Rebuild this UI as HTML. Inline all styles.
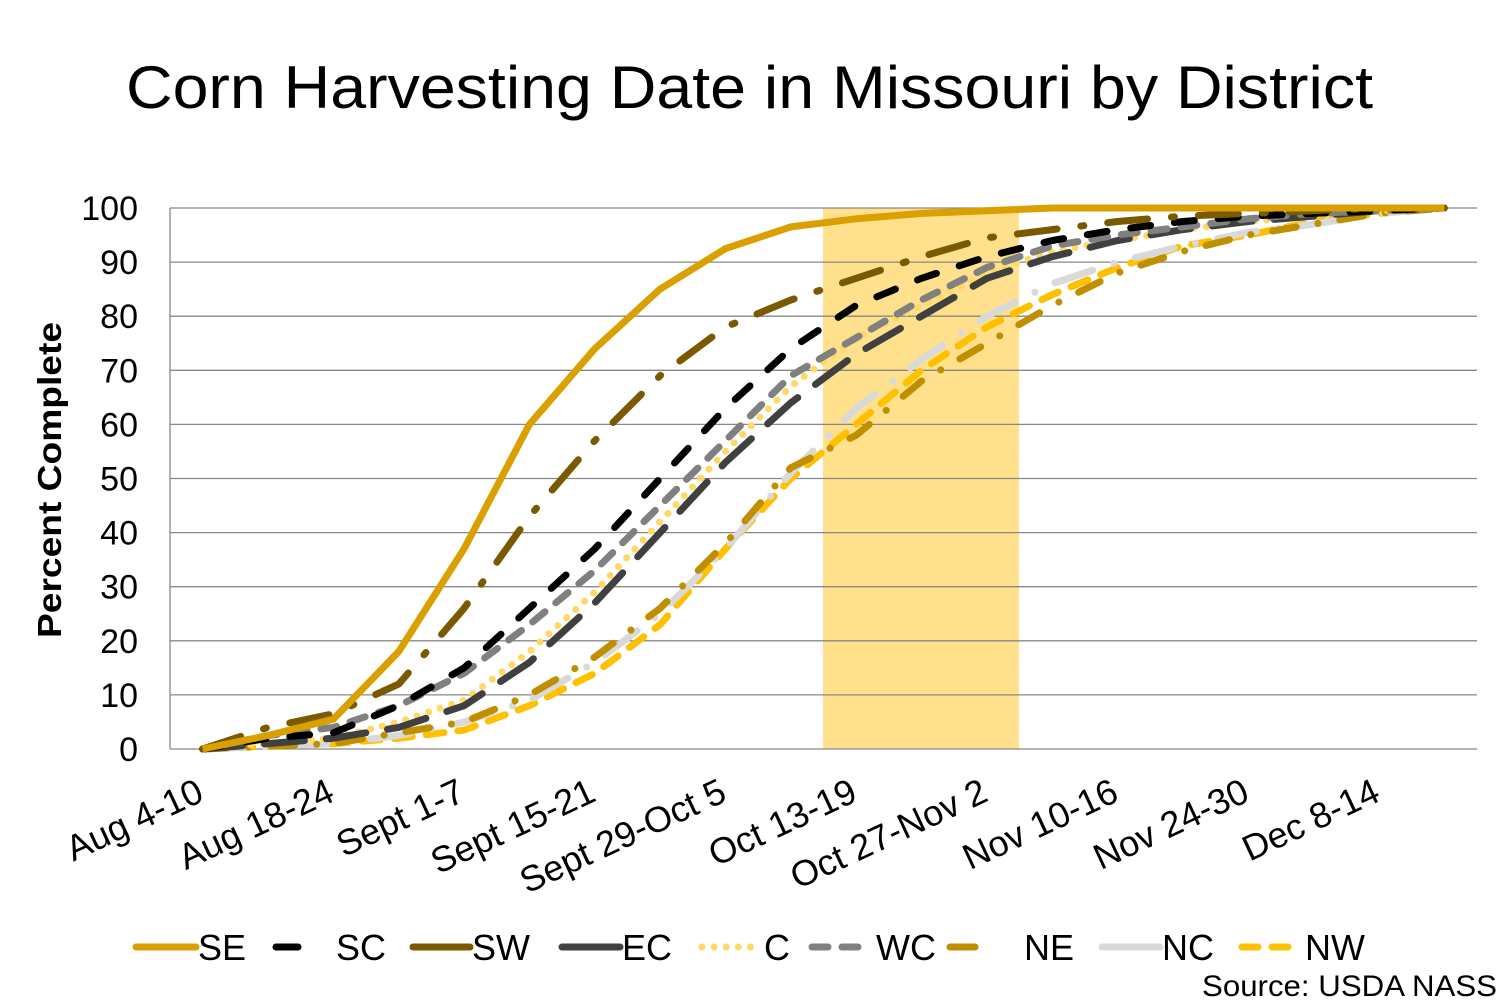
<!DOCTYPE html>
<html><head><meta charset="utf-8">
<style>
html,body{margin:0;padding:0;background:#fff;}
svg{display:block;font-family:"Liberation Sans",Arial,sans-serif;}
</style></head>
<body>
<svg id="c" width="1500" height="1000" viewBox="0 0 1500 1000" xmlns="http://www.w3.org/2000/svg">
<rect width="1500" height="1000" fill="#fff"/>
<text x="126" y="108" font-size="60" textLength="1247" lengthAdjust="spacingAndGlyphs" fill="#000">Corn Harvesting Date in Missouri by District</text>
<rect x="823" y="208" width="196" height="541" fill="#FFE08C"/>
<g id="grid" stroke="#888" stroke-width="1.3"></g>
<g id="ylab" font-size="34" text-anchor="end" fill="#000"></g>
<text transform="translate(61,480) rotate(-90)" font-size="33" font-weight="bold" text-anchor="middle" textLength="316" lengthAdjust="spacingAndGlyphs">Percent Complete</text>
<g id="xlab" font-size="36" text-anchor="end" fill="#000"></g>
<g id="series" fill="none" stroke-width="7"></g>
<g id="legend" font-size="36" fill="#000"></g>
<text x="1497" y="996" font-size="30" text-anchor="end" textLength="295" lengthAdjust="spacingAndGlyphs">Source: USDA NASS</text>
</svg>
<script>
var NS="http://www.w3.org/2000/svg";
function el(t,a,p,txt){var e=document.createElementNS(NS,t);for(var k in a)e.setAttribute(k,a[k]);if(txt)e.textContent=txt;p.appendChild(e);return e;}
var X0=170,X1=1477,Y0=749,Y100=208;
function yy(v){return Y0-(Y0-Y100)*v/100;}
function xx(i){return X0+65.35*(i+0.5);}
var g=document.getElementById('grid'),yl=document.getElementById('ylab');
for(var v=0;v<=100;v+=10){el('line',{x1:X0,x2:X1,y1:yy(v),y2:yy(v)},g);el('text',{x:138,y:yy(v)+12},yl,String(v));}
el('line',{x1:X0,x2:X0,y1:Y100,y2:Y0},g);
var labs=["Aug 4-10","Aug 18-24","Sept 1-7","Sept 15-21","Sept 29-Oct 5","Oct 13-19","Oct 27-Nov 2","Nov 10-16","Nov 24-30","Dec 8-14"];
var xl=document.getElementById('xlab');
labs.forEach(function(l,k){var x=xx(2*k)+3,y=800;el('text',{x:x,y:y,transform:'rotate(-25 '+x+' '+y+')'},xl,l);});
var S=[
["SE","#D9A000","",[0,2.5,5.5,18,37,60,74,85,92.5,96.5,98,99,99.5,100,100,100,100,100,100,100],"butt"],
["SW","#7A5A00","40 24 3 24",[0,4,6.5,12,26,43,57,69,78,83,87,91,94.5,96,97.5,98.5,99,99.5,100,100],"round"],
["SC","#000","20 24",[0,2,3,8,15,26,37,50,63,74,82,87,91,94,96,97.5,98.5,99,99.5,100],"round"],
["WC","#808080","16 14",[0,2.5,4,8,14,23,33,45,57,69,76,83,89,93,95,96.5,98,99,99.5,100],"round"],
["EC","#404040","40 22",[0,1,2,4,8,16,27,40,53,64,73,80,87,91,94,96,97.5,98.5,99.5,100],"round"],
["C","#FFD966","0.1 12",[0,1,2,5,9,18,29,42,55,67,76,82,88,92,94,96,97.5,98.5,99.5,100],"round"],
["NE","#BF8F00","24 22 0.1 22",[0,0.5,1,3,5,10,17,26,38,52,58,68,75,82,88,92,95,97,99,100],"round"],
["NC","#D9D9D9","40 22 0.1 22",[0,0.5,1,2.5,5,9,16,25,37,51,63,72,80,86,90,93,95.5,97,99,100],"round"],
["NW","#FFC000","18 14",[0,0.5,1,2,3.5,8,14,23,37,50,60,70,78,84,89,93,95,97.5,99,100],"round"]];
var sg=document.getElementById('series');
S.slice().reverse().forEach(function(s){
 var pts=s[3].map(function(v,i){return xx(i).toFixed(1)+','+yy(v).toFixed(1);}).join(' ');
 var a={points:pts,stroke:s[1],'stroke-linecap':s[4],'stroke-linejoin':'round'};
 if(s[2])a['stroke-dasharray']=s[2];
 el('polyline',a,sg);
});
var lg=document.getElementById('legend');
var L=[["SE","#D9A000",136,196,"",198],["SC","#000",276,298,"",336],["SW","#7A5A00",413,470,"",472],["EC","#404040",562,620,"",622],
["C","#FFD966",702,755,"0.1 12",764],["WC","#808080",812,870,"16 14",876],["NE","#BF8F00",950,975,"",1024],["NC","#D9D9D9",1102,1160,"",1162],["NW","#FFC000",1242,1300,"16 14",1305]];
L.forEach(function(l){var a={x1:l[2],x2:l[3],y1:947,y2:947,stroke:l[1],'stroke-width':7,'stroke-linecap':'round'};if(l[4])a['stroke-dasharray']=l[4];el('line',a,lg);el('text',{x:l[5],y:960},lg,l[0]);});
</script>
</body></html>
